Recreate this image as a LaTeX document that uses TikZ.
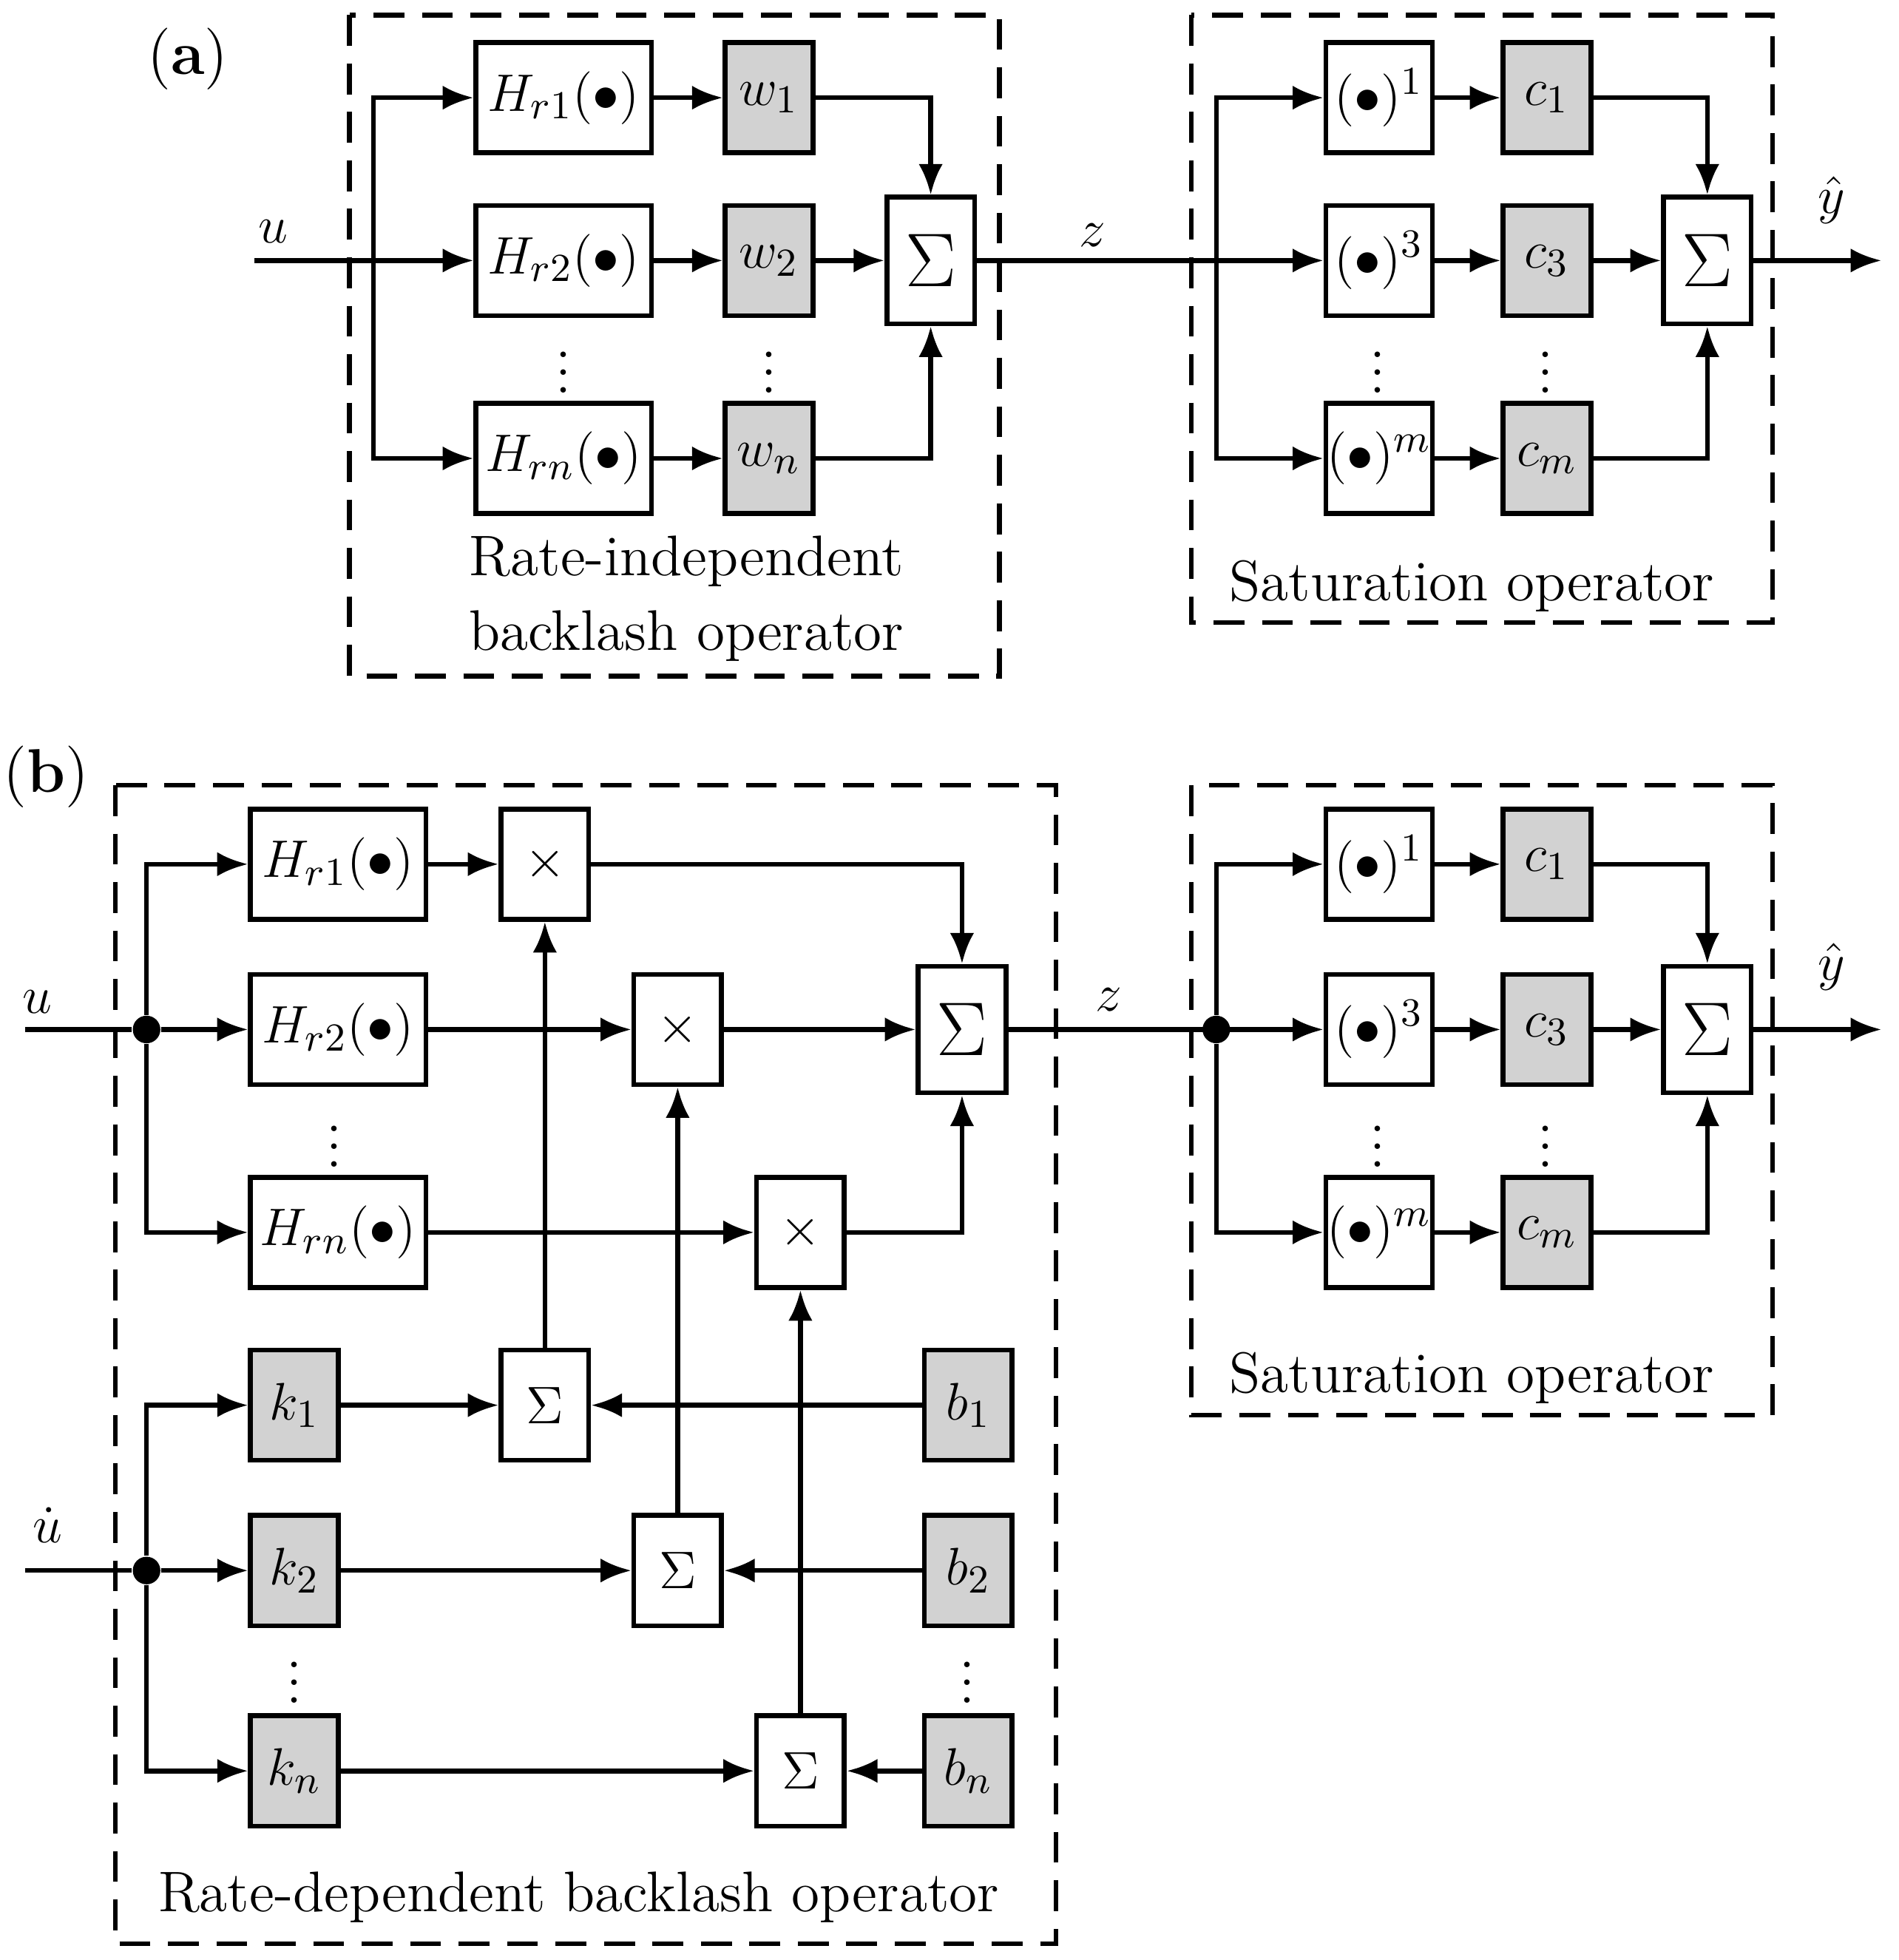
\documentclass[tikz,border=0pt]{standalone}
\usetikzlibrary{arrows.meta}
\begin{document}
\begin{tikzpicture}[x=0.01cm,y=-0.01cm,
  every node/.style={font=\fontsize{13}{15}\selectfont},
  box/.style={draw,line width=1.1pt,minimum width=1.4cm,minimum height=0.88cm,inner sep=0pt},
  gbox/.style={draw,line width=1.1pt,fill=gray!35,minimum width=0.7cm,minimum height=0.88cm,inner sep=0pt},
  pbox/.style={draw,line width=1.1pt,minimum width=0.85cm,minimum height=0.88cm,inner sep=0pt},
  sbox/.style={draw,line width=1.1pt,minimum width=0.7cm,minimum height=0.88cm,inner sep=0pt},
  bigsum/.style={draw,line width=1.1pt,minimum width=0.7cm,minimum height=1.01cm,inner sep=0pt,font=\fontsize{17}{19}\selectfont},
  frame/.style={draw,dashed,line width=1.1pt,dash pattern=on 7pt off 4pt},
  arr/.style={line width=1.1pt,-{Latex[length=7pt,width=5.5pt]}},
  ln/.style={line width=1.1pt},
  dot/.style={circle,fill,inner sep=0pt,minimum size=0.22cm},
  txt/.style={inner sep=0pt}]
\useasboundingbox (0,0) rectangle (1516,1565);
% ---------- (a)
\node[txt,font=\fontsize{14}{16}\selectfont] (la) at (150,47) {(\textbf{a})};
\draw[frame] (279,12) rectangle (798,540);
\node[txt] (t1) at (548,448) {Rate-independent};
\node[txt] (t2) at (548,508) {backlash operator};
\node[box] (aH1) at (450,78) {$H_{r1}(\bullet)$};
\node[box] (aH2) at (450,208) {$H_{r2}(\bullet)$};
\node[box] (aH3) at (450,366) {$H_{rn}(\bullet)$};
\node[gbox] (aw1) at (614,78) {$w_1$};
\node[gbox] (aw2) at (614,208) {$w_2$};
\node[gbox] (aw3) at (614,366) {$w_n$};
\node[bigsum] (aS) at (743,208) {$\Sigma$};
\node[txt] (ad1) at (450,287) {$\vdots$};
\node[txt] (ad2) at (614,287) {$\vdots$};
\coordinate (ain) at (203,208);
\node[txt] (au) at (218,185) {$u$};
\coordinate (ab1) at (298,208);
\draw[arr] (ain) -- (aH2);
\draw[arr] (ab1) |- (aH1);
\draw[arr] (ab1) |- (aH3);
\draw[arr] (aH1) -- (aw1);
\draw[arr] (aH2) -- (aw2);
\draw[arr] (aH3) -- (aw3);
\draw[arr] (aw2) -- (aS);
\draw[arr] (aw1) -| (aS);
\draw[arr] (aw3) -| (aS);
\draw[frame] (951,12) rectangle (1415,497);
\node[txt] (t3) at (1175,468) {Saturation operator};
\node[pbox] (aP1) at (1101,78) {$(\bullet)^1$};
\node[pbox] (aP2) at (1101,208) {$(\bullet)^3$};
\node[pbox] (aP3) at (1101,366) {$(\bullet)^m$};
\node[gbox] (ac1) at (1235,78) {$c_1$};
\node[gbox] (ac2) at (1235,208) {$c_3$};
\node[gbox] (ac3) at (1235,366) {$c_m$};
\node[bigsum] (aS2) at (1363,208) {$\Sigma$};
\node[txt] (ad3) at (1100,287) {$\vdots$};
\node[txt] (ad4) at (1234,287) {$\vdots$};
\node[txt] (az) at (872,188) {$z$};
\coordinate (ab2) at (971,208);
\draw[arr] (aS) -- (aP2);
\draw[arr] (ab2) |- (aP1);
\draw[arr] (ab2) |- (aP3);
\draw[arr] (aP1) -- (ac1);
\draw[arr] (aP2) -- (ac2);
\draw[arr] (aP3) -- (ac3);
\draw[arr] (ac2) -- (aS2);
\draw[arr] (ac1) -| (aS2);
\draw[arr] (ac3) -| (aS2);
\coordinate (aout) at (1502,208);
\draw[arr] (aS2) -- (aout);
\node[txt] (ay) at (1462,160) {$\hat{y}$};
% ---------- (b)
\node[txt,font=\fontsize{14}{16}\selectfont] (lb) at (37,620) {(\textbf{b})};
\draw[frame] (92,627) rectangle (843,1552);
\node[txt] (t4) at (462,1515) {Rate-dependent backlash operator};
\node[box] (bH1) at (270,690) {$H_{r1}(\bullet)$};
\node[box] (bH2) at (270,822) {$H_{r2}(\bullet)$};
\node[box] (bH3) at (270,984) {$H_{rn}(\bullet)$};
\node[txt] (bd1) at (267,905) {$\vdots$};
\node[sbox] (m1) at (435,690) {$\times$};
\node[sbox] (m2) at (541,822) {$\times$};
\node[sbox] (m3) at (639,984) {$\times$};
\node[bigsum] (bS) at (768,822) {$\Sigma$};
\node[gbox] (k1) at (235,1122) {$k_1$};
\node[gbox] (k2) at (235,1254) {$k_2$};
\node[gbox] (k3) at (235,1414) {$k_n$};
\node[txt] (bd2) at (235,1333) {$\vdots$};
\node[gbox] (b1) at (773,1122) {$b_1$};
\node[gbox] (b2) at (773,1254) {$b_2$};
\node[gbox] (b3) at (773,1414) {$b_n$};
\node[txt] (bd3) at (772,1333) {$\vdots$};
\node[sbox] (s1) at (435,1122) {$\Sigma$};
\node[sbox] (s2) at (541,1254) {$\Sigma$};
\node[sbox] (s3) at (639,1414) {$\Sigma$};
\coordinate (bin) at (20,822);
\node[dot] (bj1) at (117,822) {};
\node[txt] (bu) at (30,800) {$u$};
\draw[ln] (bin) -- (bj1);
\draw[arr] (bj1) -- (bH2);
\draw[arr] (bj1) |- (bH1);
\draw[arr] (bj1) |- (bH3);
\coordinate (bin2) at (20,1254);
\node[dot] (bj2) at (117,1254) {};
\node[txt] (bud) at (38,1218) {$\dot{u}$};
\draw[ln] (bin2) -- (bj2);
\draw[arr] (bj2) -- (k2);
\draw[arr] (bj2) |- (k1);
\draw[arr] (bj2) |- (k3);
\draw[arr] (bH1) -- (m1);
\draw[arr] (bH2) -- (m2);
\draw[arr] (bH3) -- (m3);
\draw[arr] (m2) -- (bS);
\draw[arr] (m1) -| (bS);
\draw[arr] (m3) -| (bS);
\draw[arr] (k1) -- (s1);
\draw[arr] (k2) -- (s2);
\draw[arr] (k3) -- (s3);
\draw[arr] (b1) -- (s1);
\draw[arr] (b2) -- (s2);
\draw[arr] (b3) -- (s3);
\draw[arr] (s1) -- (m1);
\draw[arr] (s2) -- (m2);
\draw[arr] (s3) -- (m3);
\draw[frame] (951,627) rectangle (1415,1130);
\node[txt] (t5) at (1175,1100) {Saturation operator};
\node[pbox] (bP1) at (1101,690) {$(\bullet)^1$};
\node[pbox] (bP2) at (1101,822) {$(\bullet)^3$};
\node[pbox] (bP3) at (1101,984) {$(\bullet)^m$};
\node[gbox] (bc1) at (1235,690) {$c_1$};
\node[gbox] (bc2) at (1235,822) {$c_3$};
\node[gbox] (bc3) at (1235,984) {$c_m$};
\node[bigsum] (bS2) at (1363,822) {$\Sigma$};
\node[txt] (bd4) at (1100,905) {$\vdots$};
\node[txt] (bd5) at (1234,905) {$\vdots$};
\node[txt] (bz) at (885,798) {$z$};
\node[dot] (bj3) at (971,822) {};
\draw[arr] (bS) -- (bP2);
\draw[arr] (bj3) |- (bP1);
\draw[arr] (bj3) |- (bP3);
\draw[arr] (bP1) -- (bc1);
\draw[arr] (bP2) -- (bc2);
\draw[arr] (bP3) -- (bc3);
\draw[arr] (bc2) -- (bS2);
\draw[arr] (bc1) -| (bS2);
\draw[arr] (bc3) -| (bS2);
\coordinate (bout) at (1502,822);
\draw[arr] (bS2) -- (bout);
\node[txt] (by) at (1462,772) {$\hat{y}$};
\end{tikzpicture}
\end{document}
